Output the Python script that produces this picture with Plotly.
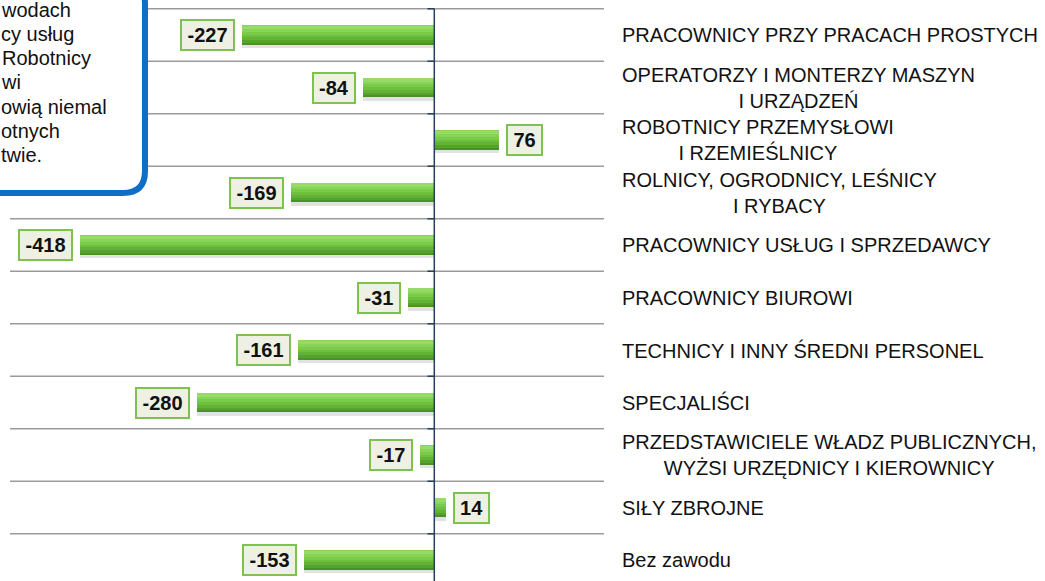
import plotly.graph_objects as go

categories = [
    "PRACOWNICY PRZY PRACACH PROSTYCH",
    "OPERATORZY I MONTERZY MASZYN<br>I URZĄDZEŃ",
    "ROBOTNICY PRZEMYSŁOWI<br>I RZEMIEŚLNICY",
    "ROLNICY, OGRODNICY, LEŚNICY<br>I RYBACY",
    "PRACOWNICY USŁUG I SPRZEDAWCY",
    "PRACOWNICY BIUROWI",
    "TECHNICY I INNY ŚREDNI PERSONEL",
    "SPECJALIŚCI",
    "PRZEDSTAWICIELE WŁADZ PUBLICZNYCH,<br>WYŻSI URZĘDNICY I KIEROWNICY",
    "SIŁY ZBROJNE",
    "Bez zawodu",
]
values = [-227, -84, 76, -169, -418, -31, -161, -280, -17, 14, -153]
callout_lines = ["wodach", "cy usług", "Robotnicy", "wi", "owią niemal", "otnych", "twie."]

# ---- geometry (pixels) ----
W, H = 1045, 581
L, R, T, B = 10, 441, 6, 0
PW, PH = W - L - R, H - T - B
ROW = 52.5
FIRST_GRID = 8.75
n = len(categories)
pos = list(range(n))
y_top = -0.5 - (FIRST_GRID - T) / ROW
y_bot = y_top + PH / ROW


def px(x):
    return (x - L) / PW


def py(y):
    return 1 - (y - T) / PH


FONT = "Arial, Liberation Sans, sans-serif"
BW = 0.38

fig = go.Figure()
# soft shadow
fig.add_trace(go.Bar(y=[p + 0.06 for p in pos], x=values, orientation="h", width=BW,
                     marker=dict(color="rgba(60,60,60,0.15)", line=dict(width=0)),
                     hoverinfo="skip", showlegend=False))
# gradient built from stacked layers (darkest at bottom, lightest at top)
grad = ["#4a9127", "#55a22e", "#62b236", "#6ebf3e", "#7acb4a", "#88d458", "#96db68"]
fracs = [1.0, 0.88, 0.76, 0.62, 0.48, 0.34, 0.18]
for k, (col, fr) in enumerate(zip(grad, fracs)):
    off = -BW / 2 + (0.012 if k == len(grad) - 1 else 0)
    fig.add_trace(go.Bar(y=pos, x=values, orientation="h", width=BW * fr, offset=off,
                         marker=dict(color=col, line=dict(width=0)), showlegend=False,
                         hoverinfo="skip" if k else None))

shapes = []
for i in range(n + 1):
    shapes.append(dict(type="line", xref="x", yref="y", x0=-500, x1=200, y0=i - 0.5, y1=i - 0.5,
                       line=dict(color="#9b9b9b", width=1.5), layer="below"))
    shapes.append(dict(type="line", xref="x", yref="y", x0=-8, x1=0, y0=i - 0.5, y1=i - 0.5,
                       line=dict(color="#243f60", width=1.5), layer="above"))
shapes.append(dict(type="line", xref="x", yref="y", x0=0, x1=0, y0=-0.5, y1=y_bot + 1,
                   line=dict(color="#243f60", width=1.5), layer="above"))

# callout box
xl, xr, yt, yb, rr = -60, 145, -18, 193, 22
path = (f"M {px(xl)},{py(yt)} L {px(xr - rr)},{py(yt)} Q {px(xr)},{py(yt)} {px(xr)},{py(yt + rr)} "
        f"L {px(xr)},{py(yb - rr)} Q {px(xr)},{py(yb)} {px(xr - rr)},{py(yb)} L {px(xl)},{py(yb)} Z")
shapes.append(dict(type="path", xref="paper", yref="paper", path=path, fillcolor="white",
                   line=dict(color="#0f6fc6", width=6), layer="above"))

annotations = []
for i, (c, v) in enumerate(zip(categories, values)):
    annotations.append(dict(xref="paper", yref="y", x=1, y=i, xshift=16, xanchor="left",
                            yanchor="middle", text=c, showarrow=False, align="center",
                            font=dict(family=FONT, size=20, color="#111111")))
    s = str(v)
    tw = sum(6.7 if ch == "-" else 11.1 for ch in s) + 7
    annotations.append(dict(xref="x", yref="y", x=v, y=i, xshift=-7 if v < 0 else 7,
                            xanchor="right" if v < 0 else "left", yanchor="middle",
                            text=f"<b>{s}</b>", showarrow=False, width=tw, height=24,
                            bgcolor="#eef0e3", bordercolor="#7dc24f", borderwidth=2, borderpad=2,
                            font=dict(family=FONT, size=20, color="#111111")))

cl_x = [-1, -1, 0, -1, -1, -1, -1]
cl_y = [10, 34, 58, 82, 107, 131, 155]
for t, xx, yy in zip(callout_lines, cl_x, cl_y):
    annotations.append(dict(xref="paper", yref="paper", x=px(xx), y=py(yy), xanchor="left",
                            yanchor="middle", text=t, showarrow=False,
                            font=dict(family=FONT, size=20, color="#111111")))

fig.update_layout(
    width=W, height=H,
    margin=dict(l=L, r=R, t=T, b=B, autoexpand=False),
    paper_bgcolor="white", plot_bgcolor="white",
    barmode="overlay", bargap=0,
    xaxis=dict(range=[-500, 200], showgrid=False, zeroline=False, showticklabels=False,
               showline=False, fixedrange=True),
    yaxis=dict(range=[y_bot, y_top], showgrid=False, zeroline=False, showticklabels=False,
               showline=False, fixedrange=True),
    shapes=shapes, annotations=annotations, showlegend=False,
)
fig.write_html("out.html", config={"displayModeBar": False},
               post_script="document.body.style.margin='0';document.body.style.overflow='hidden';")
